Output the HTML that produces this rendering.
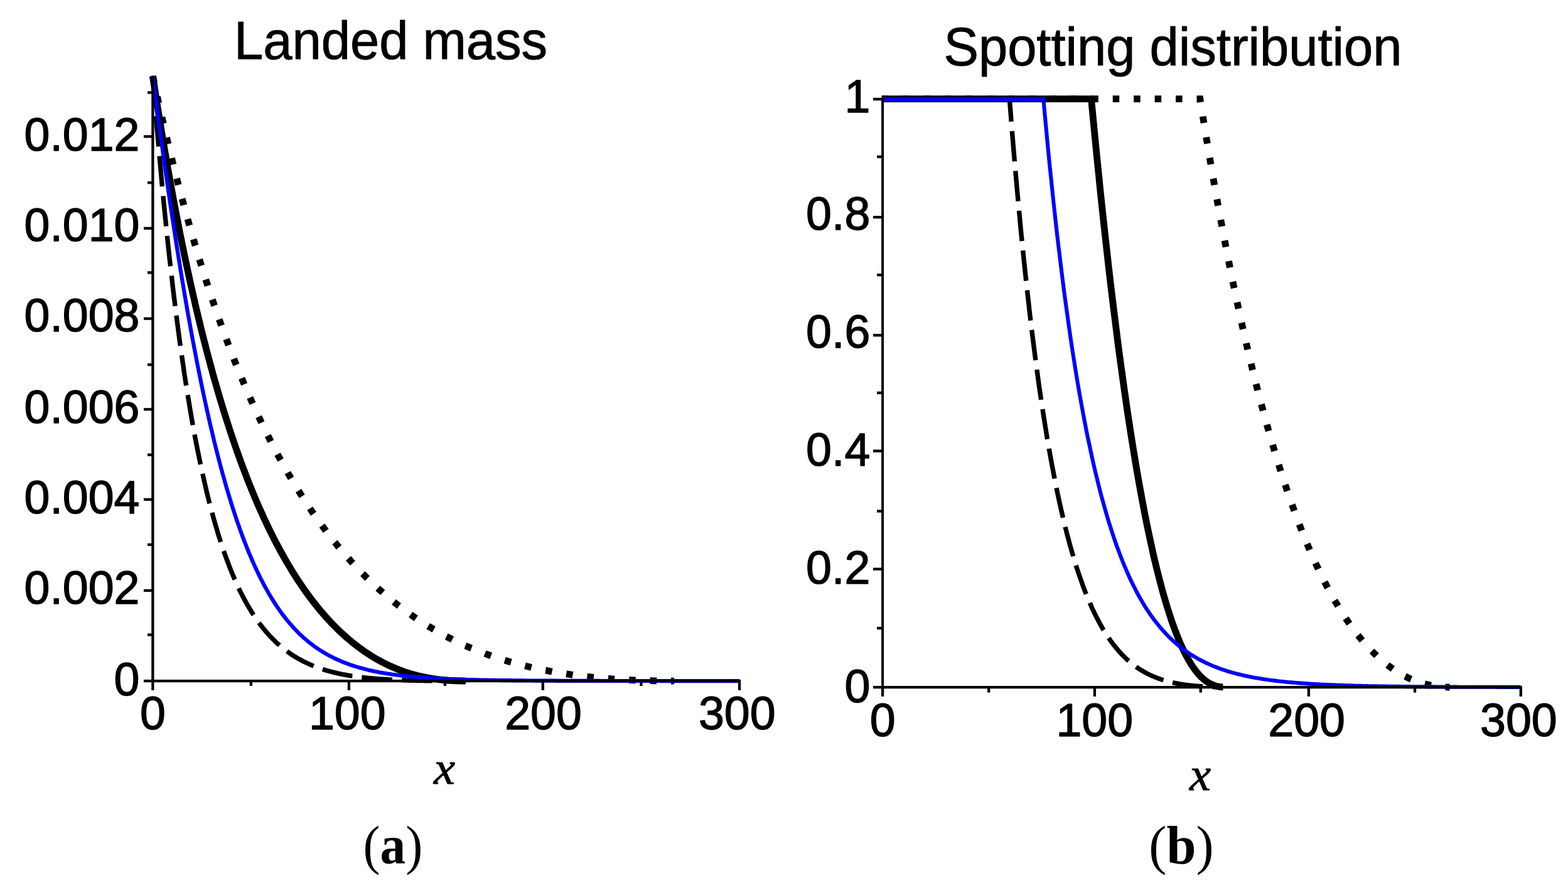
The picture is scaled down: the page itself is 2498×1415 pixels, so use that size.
<!DOCTYPE html>
<html lang="en">
<head>
<meta charset="utf-8">
<title>Landed mass and spotting distribution</title>
<style>
html,body{margin:0;padding:0;background:#fff;overflow:hidden}
svg{display:block}
text{font-kerning:normal}
</style>
</head>
<body>
<svg width="2498" height="1415" viewBox="0 0 2498 1415" role="img" aria-label="Landed mass and spotting distribution versus x">
<rect width="2498" height="1415" fill="#fff"/>
<g id="panel-a">
<g id="curves-a">
<path d="M243.4,121.3 L245.4,130.5 L247.4,139.6 L249.3,148.7 L251.3,157.6 L253.3,166.5 L255.3,175.2 L257.2,183.9 L259.2,192.5 L261.2,201 L263.2,209.5 L265.2,217.8 L267.1,226.1 L269.1,234.3 L271.1,242.4 L273.1,250.4 L275,258.4 L277,266.3 L279,274.1 L281,281.8 L282.9,289.5 L284.9,297.1 L286.9,304.6 L288.9,312.1 L290.9,319.5 L292.8,326.8 L294.8,334 L296.8,341.2 L298.8,348.3 L300.7,355.3 L302.7,362.3 L304.7,369.2 L306.7,376.1 L308.7,382.9 L310.6,389.6 L312.6,396.2 L314.6,402.8 L316.6,409.4 L318.5,415.8 L320.5,422.3 L322.5,428.6 L324.5,434.9 L326.5,441.2 L328.4,447.3 L330.4,453.5 L332.4,459.5 L334.4,465.6 L336.3,471.5 L338.3,477.4 L340.3,483.3 L342.3,489.1 L344.3,494.8 L346.2,500.5 L348.2,506.2 L350.2,511.8 L352.2,517.3 L354.1,522.8 L356.1,528.3 L358.1,533.7 L360.1,539 L362,544.3 L364,549.6 L366,554.8 L368,560 L370,565.1 L371.9,570.1 L373.9,575.2 L375.9,580.2 L377.9,585.1 L379.8,590 L381.8,594.8 L383.8,599.6 L385.8,604.4 L387.8,609.1 L389.7,613.8 L391.7,618.4 L393.7,623 L395.7,627.6 L397.6,632.1 L399.6,636.6 L401.6,641 L403.6,645.4 L405.6,649.8 L407.5,654.1 L409.5,658.4 L411.5,662.7 L413.5,666.9 L415.4,671 L417.4,675.2 L419.4,679.3 L421.4,683.3 L423.4,687.4 L425.3,691.4 L427.3,695.3 L429.3,699.2 L431.3,703.1 L433.2,707 L435.2,710.8 L437.2,714.6 L439.2,718.4 L441.1,722.1 L443.1,725.8 L445.1,729.4 L447.1,733.1 L449.1,736.7 L451,740.2 L453,743.8 L455,747.3 L457,750.7 L458.9,754.2 L460.9,757.6 L462.9,761 L464.9,764.3 L466.9,767.7 L468.8,770.9 L470.8,774.2 L472.8,777.5 L474.8,780.7 L476.7,783.8 L478.7,787 L480.7,790.1 L482.7,793.2 L484.7,796.3 L486.6,799.3 L488.6,802.4 L490.6,805.4 L492.6,808.3 L494.5,811.3 L496.5,814.2 L498.5,817.1 L500.5,819.9 L502.4,822.8 L504.4,825.6 L506.4,828.4 L508.4,831.1 L510.4,833.9 L512.3,836.6 L514.3,839.3 L516.3,842 L518.3,844.6 L520.2,847.2 L522.2,849.8 L524.2,852.4 L526.2,855 L528.2,857.5 L530.1,860 L532.1,862.5 L534.1,864.9 L536.1,867.4 L538,869.8 L540,872.2 L542,874.6 L544,876.9 L546,879.3 L547.9,881.6 L549.9,883.9 L551.9,886.2 L553.9,888.4 L555.8,890.6 L557.8,892.9 L559.8,895.1 L561.8,897.2 L563.8,899.4 L565.7,901.5 L567.7,903.6 L569.7,905.7 L571.7,907.8 L573.6,909.9 L575.6,911.9 L577.6,913.9 L579.6,915.9 L581.5,917.9 L583.5,919.9 L585.5,921.8 L587.5,923.8 L589.5,925.7 L591.4,927.6 L593.4,929.4 L595.4,931.3 L597.4,933.1 L599.3,935 L601.3,936.8 L603.3,938.6 L605.3,940.3 L607.3,942.1 L609.2,943.8 L611.2,945.6 L613.2,947.3 L615.2,949 L617.1,950.7 L619.1,952.3 L621.1,954 L623.1,955.6 L625.1,957.2 L627,958.8 L629,960.4 L631,962 L633,963.5 L634.9,965.1 L636.9,966.6 L638.9,968.1 L640.9,969.6 L642.8,971.1 L644.8,972.5 L646.8,974 L648.8,975.4 L650.8,976.9 L652.7,978.3 L654.7,979.7 L656.7,981.1 L658.7,982.4 L660.6,983.8 L662.6,985.1 L664.6,986.5 L666.6,987.8 L668.6,989.1 L670.5,990.4 L672.5,991.6 L674.5,992.9 L676.5,994.2 L678.4,995.4 L680.4,996.6 L682.4,997.8 L684.4,999 L686.4,1000.2 L688.3,1001.4 L690.3,1002.6 L692.3,1003.7 L694.3,1004.9 L696.2,1006 L698.2,1007.1 L700.2,1008.2 L702.2,1009.3 L704.2,1010.4 L706.1,1011.5 L708.1,1012.5 L710.1,1013.6 L712.1,1014.6 L714,1015.7 L716,1016.7 L718,1017.7 L720,1018.7 L721.9,1019.7 L723.9,1020.6 L725.9,1021.6 L727.9,1022.5 L729.9,1023.5 L731.8,1024.4 L733.8,1025.3 L735.8,1026.3 L737.8,1027.2 L739.7,1028.1 L741.7,1028.9 L743.7,1029.8 L745.7,1030.7 L747.7,1031.5 L749.6,1032.4 L751.6,1033.2 L753.6,1034 L755.6,1034.8 L757.5,1035.6 L759.5,1036.4 L761.5,1037.2 L763.5,1038 L765.5,1038.8 L767.4,1039.5 L769.4,1040.3 L771.4,1041 L773.4,1041.8 L775.3,1042.5 L777.3,1043.2 L779.3,1043.9 L781.3,1044.6 L783.3,1045.3 L785.2,1046 L787.2,1046.7 L789.2,1047.3 L791.2,1048 L793.1,1048.7 L795.1,1049.3 L797.1,1049.9 L799.1,1050.6 L801,1051.2 L803,1051.8 L805,1052.4 L807,1053 L809,1053.6 L810.9,1054.2 L812.9,1054.7 L814.9,1055.3 L816.9,1055.9 L818.8,1056.4 L820.8,1057 L822.8,1057.5 L824.8,1058 L826.8,1058.6 L828.7,1059.1 L830.7,1059.6 L832.7,1060.1 L834.7,1060.6 L836.6,1061.1 L838.6,1061.6 L840.6,1062 L842.6,1062.5 L844.6,1063 L846.5,1063.4 L848.5,1063.9 L850.5,1064.3 L852.5,1064.8 L854.4,1065.2 L856.4,1065.6 L858.4,1066 L860.4,1066.5 L862.3,1066.9 L864.3,1067.3 L866.3,1067.7 L868.3,1068.1 L870.3,1068.4 L872.2,1068.8 L874.2,1069.2 L876.2,1069.6 L878.2,1069.9 L880.1,1070.3 L882.1,1070.6 L884.1,1071 L886.1,1071.3 L888.1,1071.7 L890,1072 L892,1072.3 L894,1072.6 L896,1073 L897.9,1073.3 L899.9,1073.6 L901.9,1073.9 L903.9,1074.2 L905.9,1074.5 L907.8,1074.7 L909.8,1075 L911.8,1075.3 L913.8,1075.6 L915.7,1075.8 L917.7,1076.1 L919.7,1076.4 L921.7,1076.6 L923.7,1076.9 L925.6,1077.1 L927.6,1077.3 L929.6,1077.6 L931.6,1077.8 L933.5,1078 L935.5,1078.2 L937.5,1078.5 L939.5,1078.7 L941.4,1078.9 L943.4,1079.1 L945.4,1079.3 L947.4,1079.5 L949.4,1079.7 L951.3,1079.9 L953.3,1080.1 L955.3,1080.2 L957.3,1080.4 L959.2,1080.6 L961.2,1080.8 L963.2,1080.9 L965.2,1081.1 L967.2,1081.2 L969.1,1081.4 L971.1,1081.5 L973.1,1081.7 L975.1,1081.8 L977,1082 L979,1082.1 L981,1082.2 L983,1082.4 L985,1082.5 L986.9,1082.6 L988.9,1082.7 L990.9,1082.9 L992.9,1083 L994.8,1083.1 L996.8,1083.2 L998.8,1083.3 L1000.8,1083.4 L1002.7,1083.5 L1004.7,1083.6 L1006.7,1083.7 L1008.7,1083.8 L1010.7,1083.8 L1012.6,1083.9 L1014.6,1084 L1016.6,1084.1 L1018.6,1084.1 L1020.5,1084.2 L1022.5,1084.3 L1024.5,1084.3 L1026.5,1084.4 L1028.5,1084.5 L1030.4,1084.5 L1032.4,1084.6 L1034.4,1084.6 L1036.4,1084.7 L1038.3,1084.7 L1040.3,1084.8 L1042.3,1084.8 L1044.3,1084.8 L1046.3,1084.9 L1048.2,1084.9 L1050.2,1084.9 L1052.2,1084.9 L1054.2,1085 L1056.1,1085 L1058.1,1085 L1060.1,1085 L1062.1,1085 L1064.1,1085.1 L1066,1085.1 L1068,1085.1 L1070,1085.1 L1072,1085.1 L1073.9,1085.1" fill="none" stroke="#000" stroke-width="10.8" stroke-linejoin="miter" stroke-miterlimit="10" stroke-dasharray="10.5 23"/>
<path d="M243.4,121.3 L244.6,136.5 L245.8,151.4 L247,166.1 L248.1,180.6 L249.3,194.9 L250.5,208.9 L251.7,222.7 L252.9,236.3 L254.1,249.7 L255.3,262.9 L256.5,275.9 L257.6,288.6 L258.8,301.2 L260,313.6 L261.2,325.8 L262.4,337.8 L263.6,349.6 L264.8,361.2 L265.9,372.7 L267.1,383.9 L268.3,395 L269.5,405.9 L270.7,416.7 L271.9,427.3 L273.1,437.7 L274.3,447.9 L275.4,458 L276.6,468 L277.8,477.7 L279,487.4 L280.2,496.9 L281.4,506.2 L282.6,515.4 L283.8,524.4 L284.9,533.3 L286.1,542.1 L287.3,550.7 L288.5,559.2 L289.7,567.6 L290.9,575.8 L292.1,584 L293.2,591.9 L294.4,599.8 L295.6,607.5 L296.8,615.1 L298,622.6 L299.2,630 L300.4,637.3 L301.6,644.4 L302.7,651.5 L303.9,658.4 L305.1,665.3 L306.3,672 L307.5,678.6 L308.7,685.1 L309.9,691.5 L311,697.8 L312.2,704 L313.4,710.2 L314.6,716.2 L315.8,722.1 L317,728 L318.2,733.7 L319.4,739.4 L320.5,744.9 L321.7,750.4 L322.9,755.8 L324.1,761.1 L325.3,766.4 L326.5,771.5 L327.7,776.6 L328.8,781.6 L330,786.5 L331.2,791.3 L332.4,796.1 L333.6,800.8 L334.8,805.4 L336,809.9 L337.2,814.4 L338.3,818.8 L339.5,823.1 L340.7,827.4 L341.9,831.6 L343.1,835.7 L344.3,839.8 L345.5,843.8 L346.6,847.8 L347.8,851.6 L349,855.5 L350.2,859.2 L351.4,862.9 L352.6,866.6 L353.8,870.2 L355,873.7 L356.1,877.2 L357.3,880.6 L358.5,884 L359.7,887.3 L360.9,890.5 L362.1,893.8 L363.3,896.9 L364.5,900 L365.6,903.1 L366.8,906.1 L368,909.1 L369.2,912 L370.4,914.9 L371.6,917.7 L372.8,920.5 L373.9,923.2 L375.1,925.9 L376.3,928.6 L377.5,931.2 L378.7,933.8 L379.9,936.3 L381.1,938.8 L382.3,941.3 L383.4,943.7 L384.6,946.1 L385.8,948.4 L387,950.7 L388.2,953 L389.4,955.2 L390.6,957.4 L391.7,959.6 L392.9,961.7 L394.1,963.8 L395.3,965.8 L396.5,967.9 L397.7,969.9 L398.9,971.8 L400.1,973.8 L401.2,975.7 L402.4,977.5 L403.6,979.4 L404.8,981.2 L406,983 L407.2,984.7 L408.4,986.4 L409.5,988.1 L410.7,989.8 L411.9,991.5 L413.1,993.1 L414.3,994.7 L415.5,996.2 L416.7,997.8 L417.9,999.3 L419,1000.8 L420.2,1002.3 L421.4,1003.7 L422.6,1005.1 L423.8,1006.5 L425,1007.9 L426.2,1009.3 L427.4,1010.6 L428.5,1011.9 L429.7,1013.2 L430.9,1014.5 L432.1,1015.7 L433.3,1016.9 L434.5,1018.1 L435.7,1019.3 L436.8,1020.5 L438,1021.6 L439.2,1022.8 L440.4,1023.9 L441.6,1025 L442.8,1026.1 L444,1027.1 L445.2,1028.2 L446.3,1029.2 L447.5,1030.2 L448.7,1031.2 L449.9,1032.2 L451.1,1033.1 L452.3,1034.1 L453.5,1035 L454.6,1035.9 L455.8,1036.8 L457,1037.7 L458.2,1038.6 L459.4,1039.4 L460.6,1040.2 L461.8,1041.1 L463,1041.9 L464.1,1042.7 L465.3,1043.5 L466.5,1044.2 L467.7,1045 L468.9,1045.7 L470.1,1046.5 L471.3,1047.2 L472.4,1047.9 L473.6,1048.6 L474.8,1049.3 L476,1050 L477.2,1050.6 L478.4,1051.3 L479.6,1051.9 L480.8,1052.5 L481.9,1053.2 L483.1,1053.8 L484.3,1054.4 L485.5,1055 L486.7,1055.5 L487.9,1056.1 L489.1,1056.7 L490.3,1057.2 L491.4,1057.7 L492.6,1058.3 L493.8,1058.8 L495,1059.3 L496.2,1059.8 L497.4,1060.3 L498.6,1060.8 L499.7,1061.3 L500.9,1061.7 L502.1,1062.2 L503.3,1062.7 L504.5,1063.1 L505.7,1063.5 L506.9,1064 L508.1,1064.4 L509.2,1064.8 L510.4,1065.2 L511.6,1065.6 L512.8,1066 L514,1066.4 L515.2,1066.8 L516.4,1067.1 L517.5,1067.5 L518.7,1067.9 L519.9,1068.2 L521.1,1068.6 L522.3,1068.9 L523.5,1069.2 L524.7,1069.6 L525.9,1069.9 L527,1070.2 L528.2,1070.5 L529.4,1070.8 L530.6,1071.1 L531.8,1071.4 L533,1071.7 L534.2,1072 L535.3,1072.3 L536.5,1072.5 L537.7,1072.8 L538.9,1073.1 L540.1,1073.3 L541.3,1073.6 L542.5,1073.8 L543.7,1074.1 L544.8,1074.3 L546,1074.6 L547.2,1074.8 L548.4,1075 L549.6,1075.2 L550.8,1075.5 L552,1075.7 L553.1,1075.9 L554.3,1076.1 L555.5,1076.3 L556.7,1076.5 L557.9,1076.7 L559.1,1076.9 L560.3,1077.1 L561.5,1077.2 L562.6,1077.4 L563.8,1077.6 L565,1077.8 L566.2,1077.9 L567.4,1078.1 L568.6,1078.3 L569.8,1078.4 L571,1078.6 L572.1,1078.7 L573.3,1078.9 L574.5,1079 L575.7,1079.2 L576.9,1079.3 L578.1,1079.5 L579.3,1079.6 L580.4,1079.7 L581.6,1079.9 L582.8,1080 L584,1080.1 L585.2,1080.2 L586.4,1080.4 L587.6,1080.5 L588.8,1080.6 L589.9,1080.7 L591.1,1080.8 L592.3,1080.9 L593.5,1081 L594.7,1081.1 L595.9,1081.2 L597.1,1081.3 L598.2,1081.4 L599.4,1081.5 L600.6,1081.6 L601.8,1081.7 L603,1081.8 L604.2,1081.9 L605.4,1082 L606.6,1082.1 L607.7,1082.1 L608.9,1082.2 L610.1,1082.3 L611.3,1082.4 L612.5,1082.4 L613.7,1082.5 L614.9,1082.6 L616,1082.7 L617.2,1082.7 L618.4,1082.8 L619.6,1082.9 L620.8,1082.9 L622,1083 L623.2,1083.1 L624.4,1083.1 L625.5,1083.2 L626.7,1083.2 L627.9,1083.3 L629.1,1083.3 L630.3,1083.4 L631.5,1083.4 L632.7,1083.5 L633.9,1083.5 L635,1083.6 L636.2,1083.6 L637.4,1083.7 L638.6,1083.7 L639.8,1083.8 L641,1083.8 L642.2,1083.8 L643.3,1083.9 L644.5,1083.9 L645.7,1084 L646.9,1084 L648.1,1084 L649.3,1084.1 L650.5,1084.1 L651.7,1084.1 L652.8,1084.2 L654,1084.2 L655.2,1084.2 L656.4,1084.3 L657.6,1084.3 L658.8,1084.3 L660,1084.4 L661.1,1084.4 L662.3,1084.4 L663.5,1084.4 L664.7,1084.5 L665.9,1084.5 L667.1,1084.5 L668.3,1084.5 L669.5,1084.5 L670.6,1084.6 L671.8,1084.6 L673,1084.6 L674.2,1084.6 L675.4,1084.6 L676.6,1084.7 L677.8,1084.7 L678.9,1084.7 L680.1,1084.7 L681.3,1084.7 L682.5,1084.7 L683.7,1084.8 L684.9,1084.8 L686.1,1084.8 L687.3,1084.8 L688.4,1084.8 L689.6,1084.8 L690.8,1084.8 L692,1084.9 L693.2,1084.9 L694.4,1084.9 L695.6,1084.9 L696.8,1084.9 L697.9,1084.9 L699.1,1084.9 L700.3,1084.9 L701.5,1084.9 L702.7,1084.9 L703.9,1085 L705.1,1085 L706.2,1085 L707.4,1085 L708.6,1085 L709.8,1085 L711,1085 L712.2,1085 L713.4,1085 L714.6,1085 L715.7,1085 L716.9,1085 L718.1,1085 L719.3,1085 L720.5,1085 L721.7,1085 L722.9,1085 L724,1085 L725.2,1085.1 L726.4,1085.1 L727.6,1085.1 L728.8,1085.1 L730,1085.1 L731.2,1085.1 L732.4,1085.1 L733.5,1085.1 L734.7,1085.1 L735.9,1085.1 L737.1,1085.1 L738.3,1085.1 L739.5,1085.1 L740.7,1085.1 L741.8,1085.1" fill="none" stroke="#000" stroke-width="7.4" stroke-linejoin="miter" stroke-miterlimit="10" stroke-dasharray="48.7 15.2"/>
<path d="M243.4,121.3 L244.6,129.1 L245.8,136.9 L247,144.6 L248.1,152.2 L249.3,159.8 L250.5,167.3 L251.7,174.8 L252.9,182.2 L254.1,189.6 L255.3,196.9 L256.5,204.1 L257.6,211.3 L258.8,218.4 L260,225.5 L261.2,232.5 L262.4,239.5 L263.6,246.4 L264.8,253.3 L265.9,260.1 L267.1,266.9 L268.3,273.6 L269.5,280.3 L270.7,286.9 L271.9,293.5 L273.1,300 L274.3,306.4 L275.4,312.9 L276.6,319.2 L277.8,325.6 L279,331.8 L280.2,338.1 L281.4,344.3 L282.6,350.4 L283.8,356.5 L284.9,362.5 L286.1,368.5 L287.3,374.5 L288.5,380.4 L289.7,386.3 L290.9,392.1 L292.1,397.9 L293.2,403.6 L294.4,409.3 L295.6,414.9 L296.8,420.5 L298,426.1 L299.2,431.6 L300.4,437.1 L301.6,442.6 L302.7,448 L303.9,453.3 L305.1,458.6 L306.3,463.9 L307.5,469.2 L308.7,474.4 L309.9,479.5 L311,484.7 L312.2,489.8 L313.4,494.8 L314.6,499.8 L315.8,504.8 L317,509.7 L318.2,514.6 L319.4,519.5 L320.5,524.3 L321.7,529.1 L322.9,533.9 L324.1,538.6 L325.3,543.3 L326.5,547.9 L327.7,552.6 L328.8,557.2 L330,561.7 L331.2,566.2 L332.4,570.7 L333.6,575.2 L334.8,579.6 L336,584 L337.2,588.3 L338.3,592.6 L339.5,596.9 L340.7,601.2 L341.9,605.4 L343.1,609.6 L344.3,613.7 L345.5,617.9 L346.6,622 L347.8,626.1 L349,630.1 L350.2,634.1 L351.4,638.1 L352.6,642 L353.8,646 L355,649.9 L356.1,653.7 L357.3,657.6 L358.5,661.4 L359.7,665.1 L360.9,668.9 L362.1,672.6 L363.3,676.3 L364.5,680 L365.6,683.6 L366.8,687.2 L368,690.8 L369.2,694.4 L370.4,697.9 L371.6,701.4 L372.8,704.9 L373.9,708.4 L375.1,711.8 L376.3,715.2 L377.5,718.6 L378.7,721.9 L379.9,725.3 L381.1,728.6 L382.3,731.9 L383.4,735.1 L384.6,738.3 L385.8,741.6 L387,744.7 L388.2,747.9 L389.4,751 L390.6,754.2 L391.7,757.2 L392.9,760.3 L394.1,763.4 L395.3,766.4 L396.5,769.4 L397.7,772.4 L398.9,775.3 L400.1,778.3 L401.2,781.2 L402.4,784.1 L403.6,786.9 L404.8,789.8 L406,792.6 L407.2,795.4 L408.4,798.2 L409.5,801 L410.7,803.7 L411.9,806.4 L413.1,809.1 L414.3,811.8 L415.5,814.5 L416.7,817.1 L417.9,819.7 L419,822.3 L420.2,824.9 L421.4,827.5 L422.6,830 L423.8,832.6 L425,835.1 L426.2,837.6 L427.4,840 L428.5,842.5 L429.7,844.9 L430.9,847.3 L432.1,849.7 L433.3,852.1 L434.5,854.4 L435.7,856.8 L436.8,859.1 L438,861.4 L439.2,863.7 L440.4,866 L441.6,868.2 L442.8,870.5 L444,872.7 L445.2,874.9 L446.3,877.1 L447.5,879.2 L448.7,881.4 L449.9,883.5 L451.1,885.7 L452.3,887.8 L453.5,889.8 L454.6,891.9 L455.8,894 L457,896 L458.2,898 L459.4,900 L460.6,902 L461.8,904 L463,906 L464.1,907.9 L465.3,909.9 L466.5,911.8 L467.7,913.7 L468.9,915.6 L470.1,917.4 L471.3,919.3 L472.4,921.1 L473.6,923 L474.8,924.8 L476,926.6 L477.2,928.4 L478.4,930.1 L479.6,931.9 L480.8,933.6 L481.9,935.4 L483.1,937.1 L484.3,938.8 L485.5,940.5 L486.7,942.1 L487.9,943.8 L489.1,945.4 L490.3,947.1 L491.4,948.7 L492.6,950.3 L493.8,951.9 L495,953.5 L496.2,955.1 L497.4,956.6 L498.6,958.2 L499.7,959.7 L500.9,961.2 L502.1,962.7 L503.3,964.2 L504.5,965.7 L505.7,967.2 L506.9,968.6 L508.1,970.1 L509.2,971.5 L510.4,972.9 L511.6,974.3 L512.8,975.7 L514,977.1 L515.2,978.5 L516.4,979.9 L517.5,981.2 L518.7,982.5 L519.9,983.9 L521.1,985.2 L522.3,986.5 L523.5,987.8 L524.7,989.1 L525.9,990.3 L527,991.6 L528.2,992.9 L529.4,994.1 L530.6,995.3 L531.8,996.5 L533,997.7 L534.2,998.9 L535.3,1000.1 L536.5,1001.3 L537.7,1002.5 L538.9,1003.6 L540.1,1004.8 L541.3,1005.9 L542.5,1007 L543.7,1008.1 L544.8,1009.2 L546,1010.3 L547.2,1011.4 L548.4,1012.5 L549.6,1013.6 L550.8,1014.6 L552,1015.6 L553.1,1016.7 L554.3,1017.7 L555.5,1018.7 L556.7,1019.7 L557.9,1020.7 L559.1,1021.7 L560.3,1022.7 L561.5,1023.6 L562.6,1024.6 L563.8,1025.5 L565,1026.5 L566.2,1027.4 L567.4,1028.3 L568.6,1029.2 L569.8,1030.1 L571,1031 L572.1,1031.9 L573.3,1032.8 L574.5,1033.7 L575.7,1034.5 L576.9,1035.4 L578.1,1036.2 L579.3,1037 L580.4,1037.9 L581.6,1038.7 L582.8,1039.5 L584,1040.3 L585.2,1041.1 L586.4,1041.8 L587.6,1042.6 L588.8,1043.4 L589.9,1044.1 L591.1,1044.9 L592.3,1045.6 L593.5,1046.3 L594.7,1047.1 L595.9,1047.8 L597.1,1048.5 L598.2,1049.2 L599.4,1049.9 L600.6,1050.5 L601.8,1051.2 L603,1051.9 L604.2,1052.5 L605.4,1053.2 L606.6,1053.8 L607.7,1054.5 L608.9,1055.1 L610.1,1055.7 L611.3,1056.3 L612.5,1056.9 L613.7,1057.5 L614.9,1058.1 L616,1058.7 L617.2,1059.3 L618.4,1059.8 L619.6,1060.4 L620.8,1060.9 L622,1061.5 L623.2,1062 L624.4,1062.5 L625.5,1063.1 L626.7,1063.6 L627.9,1064.1 L629.1,1064.6 L630.3,1065.1 L631.5,1065.6 L632.7,1066 L633.9,1066.5 L635,1067 L636.2,1067.4 L637.4,1067.9 L638.6,1068.3 L639.8,1068.8 L641,1069.2 L642.2,1069.6 L643.3,1070 L644.5,1070.5 L645.7,1070.9 L646.9,1071.3 L648.1,1071.6 L649.3,1072 L650.5,1072.4 L651.7,1072.8 L652.8,1073.1 L654,1073.5 L655.2,1073.9 L656.4,1074.2 L657.6,1074.5 L658.8,1074.9 L660,1075.2 L661.1,1075.5 L662.3,1075.8 L663.5,1076.2 L664.7,1076.5 L665.9,1076.8 L667.1,1077 L668.3,1077.3 L669.5,1077.6 L670.6,1077.9 L671.8,1078.1 L673,1078.4 L674.2,1078.7 L675.4,1078.9 L676.6,1079.2 L677.8,1079.4 L678.9,1079.6 L680.1,1079.9 L681.3,1080.1 L682.5,1080.3 L683.7,1080.5 L684.9,1080.7 L686.1,1080.9 L687.3,1081.1 L688.4,1081.3 L689.6,1081.5 L690.8,1081.6 L692,1081.8 L693.2,1082 L694.4,1082.2 L695.6,1082.3 L696.8,1082.5 L697.9,1082.6 L699.1,1082.8 L700.3,1082.9 L701.5,1083 L702.7,1083.2 L703.9,1083.3 L705.1,1083.4 L706.2,1083.5 L707.4,1083.6 L708.6,1083.7 L709.8,1083.8 L711,1083.9 L712.2,1084 L713.4,1084.1 L714.6,1084.2 L715.7,1084.3 L716.9,1084.3 L718.1,1084.4 L719.3,1084.5 L720.5,1084.5 L721.7,1084.6 L722.9,1084.7 L724,1084.7 L725.2,1084.7 L726.4,1084.8 L727.6,1084.8 L728.8,1084.9 L730,1084.9 L731.2,1084.9 L732.4,1085 L733.5,1085 L734.7,1085 L735.9,1085 L737.1,1085 L738.3,1085.1 L739.5,1085.1 L740.7,1085.1 L741.8,1085.1" fill="none" stroke="#000" stroke-width="10.8" stroke-linejoin="miter" stroke-miterlimit="10"/>
<path d="M243.4,121.3 L245.6,138.6 L247.9,155.8 L250.1,172.7 L252.3,189.5 L254.5,206.1 L256.8,222.4 L259,238.6 L261.2,254.7 L263.4,270.5 L265.7,286.1 L267.9,301.5 L270.1,316.8 L272.3,331.8 L274.6,346.7 L276.8,361.4 L279,375.9 L281.2,390.1 L283.5,404.2 L285.7,418.1 L287.9,431.8 L290.1,445.3 L292.4,458.6 L294.6,471.7 L296.8,484.6 L299,497.4 L301.3,509.9 L303.5,522.2 L305.7,534.4 L307.9,546.3 L310.2,558.1 L312.4,569.7 L314.6,581 L316.8,592.2 L319.1,603.2 L321.3,614.1 L323.5,624.7 L325.7,635.1 L328,645.4 L330.2,655.5 L332.4,665.4 L334.6,675.1 L336.9,684.6 L339.1,694 L341.3,703.2 L343.5,712.2 L345.8,721.1 L348,729.7 L350.2,738.3 L352.4,746.6 L354.7,754.8 L356.9,762.8 L359.1,770.6 L361.3,778.3 L363.6,785.9 L365.8,793.3 L368,800.5 L370.2,807.6 L372.5,814.5 L374.7,821.3 L376.9,827.9 L379.1,834.4 L381.4,840.8 L383.6,847 L385.8,853.1 L388,859 L390.3,864.8 L392.5,870.5 L394.7,876 L396.9,881.5 L399.2,886.8 L401.4,892 L403.6,897 L405.8,902 L408.1,906.8 L410.3,911.5 L412.5,916.1 L414.7,920.6 L417,925 L419.2,929.3 L421.4,933.5 L423.6,937.5 L425.9,941.5 L428.1,945.4 L430.3,949.2 L432.5,952.9 L434.8,956.5 L437,960 L439.2,963.4 L441.4,966.7 L443.7,970 L445.9,973.2 L448.1,976.3 L450.3,979.3 L452.6,982.2 L454.8,985.1 L457,987.9 L459.2,990.6 L461.5,993.2 L463.7,995.8 L465.9,998.3 L468.1,1000.7 L470.4,1003.1 L472.6,1005.4 L474.8,1007.7 L477,1009.9 L479.3,1012 L481.5,1014.1 L483.7,1016.1 L485.9,1018 L488.2,1020 L490.4,1021.8 L492.6,1023.6 L494.8,1025.4 L497.1,1027.1 L499.3,1028.8 L501.5,1030.4 L503.8,1032 L506,1033.5 L508.2,1035 L510.4,1036.4 L512.7,1037.8 L514.9,1039.2 L517.1,1040.5 L519.3,1041.8 L521.6,1043.1 L523.8,1044.3 L526,1045.5 L528.2,1046.6 L530.5,1047.8 L532.7,1048.9 L534.9,1049.9 L537.1,1050.9 L539.4,1051.9 L541.6,1052.9 L543.8,1053.8 L546,1054.8 L548.3,1055.7 L550.5,1056.5 L552.7,1057.4 L554.9,1058.2 L557.2,1059 L559.4,1059.7 L561.6,1060.5 L563.8,1061.2 L566.1,1061.9 L568.3,1062.6 L570.5,1063.3 L572.7,1063.9 L575,1064.5 L577.2,1065.1 L579.4,1065.7 L581.6,1066.3 L583.9,1066.8 L586.1,1067.4 L588.3,1067.9 L590.5,1068.4 L592.8,1068.9 L595,1069.4 L597.2,1069.9 L599.4,1070.3 L601.7,1070.7 L603.9,1071.2 L606.1,1071.6 L608.3,1072 L610.6,1072.4 L612.8,1072.7 L615,1073.1 L617.2,1073.5 L619.5,1073.8 L621.7,1074.1 L623.9,1074.5 L626.1,1074.8 L628.4,1075.1 L630.6,1075.4 L632.8,1075.7 L635,1076 L637.3,1076.2 L639.5,1076.5 L641.7,1076.7 L643.9,1077 L646.2,1077.2 L648.4,1077.5 L650.6,1077.7 L652.8,1077.9 L655.1,1078.1 L657.3,1078.3 L659.5,1078.5 L661.7,1078.7 L664,1078.9 L666.2,1079.1 L668.4,1079.3 L670.6,1079.4 L672.9,1079.6 L675.1,1079.8 L677.3,1079.9 L679.5,1080.1 L681.8,1080.2 L684,1080.4 L686.2,1080.5 L688.4,1080.6 L690.7,1080.8 L692.9,1080.9 L695.1,1081 L697.3,1081.1 L699.6,1081.3 L701.8,1081.4 L704,1081.5 L706.2,1081.6 L708.5,1081.7 L710.7,1081.8 L712.9,1081.9 L715.1,1082 L717.4,1082.1 L719.6,1082.2 L721.8,1082.2 L724,1082.3 L726.3,1082.4 L728.5,1082.5 L730.7,1082.6 L732.9,1082.6 L735.2,1082.7 L737.4,1082.8 L739.6,1082.8 L741.8,1082.9 L744.1,1083 L746.3,1083 L748.5,1083.1 L750.7,1083.1 L753,1083.2 L755.2,1083.3 L757.4,1083.3 L759.6,1083.4 L761.9,1083.4 L764.1,1083.5 L766.3,1083.5 L768.6,1083.6 L770.8,1083.6 L773,1083.6 L775.2,1083.7 L777.5,1083.7 L779.7,1083.8 L781.9,1083.8 L784.1,1083.8 L786.4,1083.9 L788.6,1083.9 L790.8,1083.9 L793,1084 L795.3,1084 L797.5,1084 L799.7,1084.1 L801.9,1084.1 L804.2,1084.1 L806.4,1084.2 L808.6,1084.2 L810.8,1084.2 L813.1,1084.2 L815.3,1084.3 L817.5,1084.3 L819.7,1084.3 L822,1084.3 L824.2,1084.3 L826.4,1084.4 L828.6,1084.4 L830.9,1084.4 L833.1,1084.4 L835.3,1084.4 L837.5,1084.5 L839.8,1084.5 L842,1084.5 L844.2,1084.5 L846.4,1084.5 L848.7,1084.5 L850.9,1084.6 L853.1,1084.6 L855.3,1084.6 L857.6,1084.6 L859.8,1084.6 L862,1084.6 L864.2,1084.6 L866.5,1084.7 L868.7,1084.7 L870.9,1084.7 L873.1,1084.7 L875.4,1084.7 L877.6,1084.7 L879.8,1084.7 L882,1084.7 L884.3,1084.7 L886.5,1084.8 L888.7,1084.8 L890.9,1084.8 L893.2,1084.8 L895.4,1084.8 L897.6,1084.8 L899.8,1084.8 L902.1,1084.8 L904.3,1084.8 L906.5,1084.8 L908.7,1084.8 L911,1084.8 L913.2,1084.8 L915.4,1084.9 L917.6,1084.9 L919.9,1084.9 L922.1,1084.9 L924.3,1084.9 L926.5,1084.9 L928.8,1084.9 L931,1084.9 L933.2,1084.9 L935.4,1084.9 L937.7,1084.9 L939.9,1084.9 L942.1,1084.9 L944.3,1084.9 L946.6,1084.9 L948.8,1084.9 L951,1084.9 L953.2,1084.9 L955.5,1084.9 L957.7,1085 L959.9,1085 L962.1,1085 L964.4,1085 L966.6,1085 L968.8,1085 L971,1085 L973.3,1085 L975.5,1085 L977.7,1085 L979.9,1085 L982.2,1085 L984.4,1085 L986.6,1085 L988.8,1085 L991.1,1085 L993.3,1085 L995.5,1085 L997.7,1085 L1000,1085 L1002.2,1085 L1004.4,1085 L1006.6,1085 L1008.9,1085 L1011.1,1085 L1013.3,1085 L1015.5,1085 L1017.8,1085 L1020,1085 L1022.2,1085 L1024.5,1085 L1026.7,1085 L1028.9,1085 L1031.1,1085 L1033.4,1085 L1035.6,1085 L1037.8,1085 L1040,1085 L1042.3,1085 L1044.5,1085 L1046.7,1085 L1048.9,1085 L1051.2,1085 L1053.4,1085.1 L1055.6,1085.1 L1057.8,1085.1 L1060.1,1085.1 L1062.3,1085.1 L1064.5,1085.1 L1066.7,1085.1 L1069,1085.1 L1071.2,1085.1 L1073.4,1085.1 L1075.6,1085.1 L1077.9,1085.1 L1080.1,1085.1 L1082.3,1085.1 L1084.5,1085.1 L1086.8,1085.1 L1089,1085.1 L1091.2,1085.1 L1093.4,1085.1 L1095.7,1085.1 L1097.9,1085.1 L1100.1,1085.1 L1102.3,1085.1 L1104.6,1085.1 L1106.8,1085.1 L1109,1085.1 L1111.2,1085.1 L1113.5,1085.1 L1115.7,1085.1 L1117.9,1085.1 L1120.1,1085.1 L1122.4,1085.1 L1124.6,1085.1 L1126.8,1085.1 L1129,1085.1 L1131.3,1085.1 L1133.5,1085.1 L1135.7,1085.1 L1137.9,1085.1 L1140.2,1085.1 L1142.4,1085.1 L1144.6,1085.1 L1146.8,1085.1 L1149.1,1085.1 L1151.3,1085.1 L1153.5,1085.1 L1155.7,1085.1 L1158,1085.1 L1160.2,1085.1 L1162.4,1085.1 L1164.6,1085.1 L1166.9,1085.1 L1169.1,1085.1 L1171.3,1085.1 L1173.5,1085.1 L1175.8,1085.1 L1178,1085.1" fill="none" stroke="#0000ff" stroke-width="6.2" stroke-linejoin="miter" stroke-miterlimit="10"/>
</g>
<g id="axes-a">
<line x1="243.4" y1="120.4" x2="243.4" y2="1087.2" stroke="#000" stroke-width="4.3"/>
<line x1="241.2" y1="1085.1" x2="1180.0" y2="1085.1" stroke="#000" stroke-width="4.3"/>
<line x1="243.4" y1="1085.1" x2="243.4" y2="1099.8" stroke="#000" stroke-width="4.3"/>
<line x1="399.9" y1="1085.1" x2="399.9" y2="1093.0" stroke="#000" stroke-width="4.3"/>
<line x1="555.9" y1="1085.1" x2="555.9" y2="1099.8" stroke="#000" stroke-width="4.3"/>
<line x1="708.9" y1="1085.1" x2="708.9" y2="1093.0" stroke="#000" stroke-width="4.3"/>
<line x1="864.8" y1="1085.1" x2="864.8" y2="1099.8" stroke="#000" stroke-width="4.3"/>
<line x1="1021.4" y1="1085.1" x2="1021.4" y2="1093.0" stroke="#000" stroke-width="4.3"/>
<line x1="1178.0" y1="1085.1" x2="1178.0" y2="1099.8" stroke="#000" stroke-width="4.3"/>
<line x1="229.0" y1="1085.1" x2="243.4" y2="1085.1" stroke="#000" stroke-width="4.3"/>
<line x1="235.0" y1="1011.5" x2="243.4" y2="1011.5" stroke="#000" stroke-width="4.3"/>
<line x1="229.0" y1="941.0" x2="243.4" y2="941.0" stroke="#000" stroke-width="4.3"/>
<line x1="235.0" y1="867.9" x2="243.4" y2="867.9" stroke="#000" stroke-width="4.3"/>
<line x1="229.0" y1="795.9" x2="243.4" y2="795.9" stroke="#000" stroke-width="4.3"/>
<line x1="235.0" y1="724.7" x2="243.4" y2="724.7" stroke="#000" stroke-width="4.3"/>
<line x1="229.0" y1="652.3" x2="243.4" y2="652.3" stroke="#000" stroke-width="4.3"/>
<line x1="235.0" y1="581.1" x2="243.4" y2="581.1" stroke="#000" stroke-width="4.3"/>
<line x1="229.0" y1="507.7" x2="243.4" y2="507.7" stroke="#000" stroke-width="4.3"/>
<line x1="235.0" y1="434.4" x2="243.4" y2="434.4" stroke="#000" stroke-width="4.3"/>
<line x1="229.0" y1="363.8" x2="243.4" y2="363.8" stroke="#000" stroke-width="4.3"/>
<line x1="235.0" y1="291.1" x2="243.4" y2="291.1" stroke="#000" stroke-width="4.3"/>
<line x1="229.0" y1="217.5" x2="243.4" y2="217.5" stroke="#000" stroke-width="4.3"/>
<line x1="235.0" y1="147.5" x2="243.4" y2="147.5" stroke="#000" stroke-width="4.3"/>
</g>
<g id="labels-a">
<text transform="translate(622.6,93.9) scale(0.978,1.0)" font-size="85" text-anchor="middle" font-family="'Liberation Sans', sans-serif" fill="#000" stroke="#000" stroke-width="1.0" stroke-linejoin="round">Landed mass</text>
<text transform="translate(222.5,240.2) scale(1.0,1.0)" font-size="73.5" text-anchor="end" font-family="'Liberation Sans', sans-serif" fill="#000" stroke="#000" stroke-width="1.4" stroke-linejoin="round">0.012</text>
<text transform="translate(222.5,384.3) scale(1.0,1.0)" font-size="73.5" text-anchor="end" font-family="'Liberation Sans', sans-serif" fill="#000" stroke="#000" stroke-width="1.4" stroke-linejoin="round">0.010</text>
<text transform="translate(222.5,527.8) scale(1.0,1.0)" font-size="73.5" text-anchor="end" font-family="'Liberation Sans', sans-serif" fill="#000" stroke="#000" stroke-width="1.4" stroke-linejoin="round">0.008</text>
<text transform="translate(222.5,674.3) scale(1.0,1.0)" font-size="73.5" text-anchor="end" font-family="'Liberation Sans', sans-serif" fill="#000" stroke="#000" stroke-width="1.4" stroke-linejoin="round">0.006</text>
<text transform="translate(222.5,818.0) scale(1.0,1.0)" font-size="73.5" text-anchor="end" font-family="'Liberation Sans', sans-serif" fill="#000" stroke="#000" stroke-width="1.4" stroke-linejoin="round">0.004</text>
<text transform="translate(222.5,961.5) scale(1.0,1.0)" font-size="73.5" text-anchor="end" font-family="'Liberation Sans', sans-serif" fill="#000" stroke="#000" stroke-width="1.4" stroke-linejoin="round">0.002</text>
<text transform="translate(222.5,1107.8) scale(1.0,1.0)" font-size="73.5" text-anchor="end" font-family="'Liberation Sans', sans-serif" fill="#000" stroke="#000" stroke-width="1.4" stroke-linejoin="round">0</text>
<text transform="translate(243.4,1162.0) scale(1.0,1.0)" font-size="73.5" text-anchor="middle" font-family="'Liberation Sans', sans-serif" fill="#000" stroke="#000" stroke-width="1.4" stroke-linejoin="round">0</text>
<text transform="translate(553.3,1162.0) scale(1.0,1.0)" font-size="73.5" text-anchor="middle" font-family="'Liberation Sans', sans-serif" fill="#000" stroke="#000" stroke-width="1.4" stroke-linejoin="round">100</text>
<text transform="translate(865.5,1162.0) scale(1.0,1.0)" font-size="73.5" text-anchor="middle" font-family="'Liberation Sans', sans-serif" fill="#000" stroke="#000" stroke-width="1.4" stroke-linejoin="round">200</text>
<text transform="translate(1174.2,1162.0) scale(1.0,1.0)" font-size="73.5" text-anchor="middle" font-family="'Liberation Sans', sans-serif" fill="#000" stroke="#000" stroke-width="1.4" stroke-linejoin="round">300</text>
<text transform="translate(708.0,1249.3) scale(1.0,0.97)" font-size="77" text-anchor="middle" font-family="'Liberation Serif', serif" fill="#000" stroke="#000" stroke-width="0.9" stroke-linejoin="round" font-style="italic">x</text>
<text transform="translate(625.9,1375.8) scale(0.94,1)" font-size="86.5" text-anchor="middle" font-family="'Liberation Serif', serif" fill="#000">(<tspan font-weight="bold">a</tspan>)</text>
</g>
</g>
<g id="panel-b">
<g id="curves-b">
<path d="M1404.8,157.7 L1911.8,157.7 L1913.7,169.5 L1915.9,182.9 L1918,196.3 L1920.2,209.4 L1922.3,222.4 L1924.5,235.3 L1926.6,248.1 L1928.8,260.7 L1930.9,273.1 L1933.1,285.5 L1935.2,297.7 L1937.4,309.8 L1939.5,321.7 L1941.7,333.5 L1943.8,345.2 L1946,356.7 L1948.1,368.2 L1950.3,379.4 L1952.4,390.6 L1954.6,401.7 L1956.7,412.6 L1958.9,423.4 L1961,434 L1963.2,444.6 L1965.3,455 L1967.5,465.3 L1969.6,475.5 L1971.8,485.6 L1973.9,495.6 L1976.1,505.4 L1978.2,515.2 L1980.4,524.8 L1982.5,534.3 L1984.7,543.7 L1986.8,553 L1989,562.1 L1991.1,571.2 L1993.3,580.2 L1995.4,589 L1997.6,597.8 L1999.7,606.4 L2001.9,614.9 L2004,623.4 L2006.2,631.7 L2008.3,639.9 L2010.5,648 L2012.7,656.1 L2014.8,664 L2017,671.8 L2019.1,679.5 L2021.3,687.2 L2023.4,694.7 L2025.6,702.1 L2027.7,709.5 L2029.9,716.7 L2032,723.9 L2034.2,730.9 L2036.3,737.9 L2038.5,744.8 L2040.6,751.6 L2042.8,758.3 L2044.9,764.9 L2047.1,771.4 L2049.2,777.8 L2051.4,784.2 L2053.5,790.4 L2055.7,796.6 L2057.8,802.7 L2060,808.7 L2062.1,814.6 L2064.3,820.5 L2066.4,826.3 L2068.6,831.9 L2070.7,837.5 L2072.9,843.1 L2075,848.5 L2077.2,853.9 L2079.3,859.2 L2081.5,864.4 L2083.6,869.5 L2085.8,874.6 L2087.9,879.6 L2090.1,884.5 L2092.2,889.3 L2094.4,894.1 L2096.5,898.8 L2098.7,903.4 L2100.8,908 L2103,912.5 L2105.1,916.9 L2107.3,921.2 L2109.4,925.5 L2111.6,929.7 L2113.7,933.8 L2115.9,937.9 L2118,941.9 L2120.2,945.9 L2122.3,949.8 L2124.5,953.6 L2126.6,957.3 L2128.8,961 L2131,964.6 L2133.1,968.2 L2135.3,971.7 L2137.4,975.2 L2139.6,978.5 L2141.7,981.9 L2143.9,985.1 L2146,988.3 L2148.2,991.5 L2150.3,994.6 L2152.5,997.6 L2154.6,1000.6 L2156.8,1003.5 L2158.9,1006.4 L2161.1,1009.2 L2163.2,1011.9 L2165.4,1014.6 L2167.5,1017.3 L2169.7,1019.9 L2171.8,1022.4 L2174,1024.9 L2176.1,1027.4 L2178.3,1029.8 L2180.4,1032.1 L2182.6,1034.4 L2184.7,1036.6 L2186.9,1038.8 L2189,1041 L2191.2,1043 L2193.3,1045.1 L2195.5,1047.1 L2197.6,1049 L2199.8,1050.9 L2201.9,1052.8 L2204.1,1054.6 L2206.2,1056.4 L2208.4,1058.1 L2210.5,1059.8 L2212.7,1061.4 L2214.8,1063 L2217,1064.5 L2219.1,1066 L2221.3,1067.5 L2223.4,1068.9 L2225.6,1070.3 L2227.7,1071.6 L2229.9,1072.9 L2232,1074.1 L2234.2,1075.4 L2236.3,1076.5 L2238.5,1077.7 L2240.6,1078.7 L2242.8,1079.8 L2244.9,1080.8 L2247.1,1081.8 L2249.2,1082.7 L2251.4,1083.6 L2253.6,1084.5 L2255.7,1085.3 L2257.9,1086.1 L2260,1086.8 L2262.2,1087.5 L2264.3,1088.2 L2266.5,1088.9 L2268.6,1089.5 L2270.8,1090 L2272.9,1090.6 L2275.1,1091.1 L2277.2,1091.6 L2279.4,1092 L2281.5,1092.4 L2283.7,1092.8 L2285.8,1093.1 L2288,1093.4 L2290.1,1093.7 L2292.3,1094 L2294.4,1094.2 L2296.6,1094.4 L2298.7,1094.6 L2300.9,1094.7 L2303,1094.8 L2305.2,1094.9 L2307.3,1095 L2309.5,1095" fill="none" stroke="#000" stroke-width="10.8" stroke-linejoin="miter" stroke-miterlimit="10" stroke-dasharray="10.5 22.95"/>
<path d="M1404.8,157.7 L1608.3,157.7 L1608.8,163.9 L1610.1,180.3 L1611.3,196.5 L1612.6,212.4 L1613.9,228 L1615.2,243.4 L1616.5,258.6 L1617.8,273.5 L1619.1,288.1 L1620.4,302.5 L1621.7,316.7 L1623,330.6 L1624.3,344.3 L1625.5,357.8 L1626.8,371.1 L1628.1,384.1 L1629.4,397 L1630.7,409.6 L1632,422 L1633.3,434.2 L1634.6,446.2 L1635.9,458.1 L1637.2,469.7 L1638.5,481.1 L1639.7,492.3 L1641,503.4 L1642.3,514.3 L1643.6,524.9 L1644.9,535.5 L1646.2,545.8 L1647.5,555.9 L1648.8,565.9 L1650.1,575.8 L1651.4,585.4 L1652.7,594.9 L1653.9,604.3 L1655.2,613.4 L1656.5,622.5 L1657.8,631.4 L1659.1,640.1 L1660.4,648.7 L1661.7,657.1 L1663,665.4 L1664.3,673.5 L1665.6,681.5 L1666.9,689.4 L1668.1,697.2 L1669.4,704.8 L1670.7,712.3 L1672,719.6 L1673.3,726.8 L1674.6,733.9 L1675.9,740.9 L1677.2,747.8 L1678.5,754.5 L1679.8,761.2 L1681.1,767.7 L1682.3,774.1 L1683.6,780.4 L1684.9,786.5 L1686.2,792.6 L1687.5,798.6 L1688.8,804.4 L1690.1,810.2 L1691.4,815.9 L1692.7,821.4 L1694,826.9 L1695.3,832.3 L1696.5,837.5 L1697.8,842.7 L1699.1,847.8 L1700.4,852.8 L1701.7,857.7 L1703,862.5 L1704.3,867.3 L1705.6,871.9 L1706.9,876.5 L1708.2,881 L1709.5,885.4 L1710.7,889.7 L1712,894 L1713.3,898.2 L1714.6,902.3 L1715.9,906.3 L1717.2,910.2 L1718.5,914.1 L1719.8,917.9 L1721.1,921.7 L1722.4,925.3 L1723.7,928.9 L1724.9,932.5 L1726.2,936 L1727.5,939.4 L1728.8,942.7 L1730.1,946 L1731.4,949.2 L1732.7,952.4 L1734,955.5 L1735.3,958.5 L1736.6,961.5 L1737.9,964.5 L1739.1,967.4 L1740.4,970.2 L1741.7,972.9 L1743,975.7 L1744.3,978.3 L1745.6,981 L1746.9,983.5 L1748.2,986 L1749.5,988.5 L1750.8,990.9 L1752,993.3 L1753.3,995.6 L1754.6,997.9 L1755.9,1000.2 L1757.2,1002.4 L1758.5,1004.5 L1759.8,1006.6 L1761.1,1008.7 L1762.4,1010.7 L1763.7,1012.7 L1765,1014.7 L1766.2,1016.6 L1767.5,1018.4 L1768.8,1020.3 L1770.1,1022.1 L1771.4,1023.8 L1772.7,1025.6 L1774,1027.3 L1775.3,1028.9 L1776.6,1030.5 L1777.9,1032.1 L1779.2,1033.7 L1780.4,1035.2 L1781.7,1036.7 L1783,1038.2 L1784.3,1039.6 L1785.6,1041 L1786.9,1042.4 L1788.2,1043.7 L1789.5,1045 L1790.8,1046.3 L1792.1,1047.6 L1793.4,1048.8 L1794.6,1050 L1795.9,1051.2 L1797.2,1052.4 L1798.5,1053.5 L1799.8,1054.6 L1801.1,1055.7 L1802.4,1056.8 L1803.7,1057.8 L1805,1058.8 L1806.3,1059.8 L1807.6,1060.8 L1808.8,1061.7 L1810.1,1062.6 L1811.4,1063.6 L1812.7,1064.4 L1814,1065.3 L1815.3,1066.1 L1816.6,1067 L1817.9,1067.8 L1819.2,1068.6 L1820.5,1069.3 L1821.8,1070.1 L1823,1070.8 L1824.3,1071.5 L1825.6,1072.2 L1826.9,1072.9 L1828.2,1073.6 L1829.5,1074.2 L1830.8,1074.9 L1832.1,1075.5 L1833.4,1076.1 L1834.7,1076.7 L1836,1077.3 L1837.2,1077.8 L1838.5,1078.4 L1839.8,1078.9 L1841.1,1079.4 L1842.4,1079.9 L1843.7,1080.4 L1845,1080.9 L1846.3,1081.4 L1847.6,1081.8 L1848.9,1082.3 L1850.2,1082.7 L1851.4,1083.1 L1852.7,1083.5 L1854,1083.9 L1855.3,1084.3 L1856.6,1084.7 L1857.9,1085.1 L1859.2,1085.4 L1860.5,1085.8 L1861.8,1086.1 L1863.1,1086.4 L1864.4,1086.8 L1865.6,1087.1 L1866.9,1087.4 L1868.2,1087.7 L1869.5,1088 L1870.8,1088.2 L1872.1,1088.5 L1873.4,1088.8 L1874.7,1089 L1876,1089.2 L1877.3,1089.5 L1878.6,1089.7 L1879.8,1089.9 L1881.1,1090.1 L1882.4,1090.4 L1883.7,1090.6 L1885,1090.8 L1886.3,1090.9 L1887.6,1091.1 L1888.9,1091.3 L1890.2,1091.5 L1891.5,1091.6 L1892.8,1091.8 L1894,1091.9 L1895.3,1092.1 L1896.6,1092.2 L1897.9,1092.4 L1899.2,1092.5 L1900.5,1092.6 L1901.8,1092.8 L1903.1,1092.9 L1904.4,1093 L1905.7,1093.1 L1907,1093.2 L1908.2,1093.3 L1909.5,1093.4 L1910.8,1093.5 L1912.1,1093.6 L1913.4,1093.7 L1914.7,1093.7 L1916,1093.8 L1917.3,1093.9 L1918.6,1094 L1919.9,1094 L1921.2,1094.1 L1922.4,1094.2 L1923.7,1094.2 L1925,1094.3 L1926.3,1094.3 L1927.6,1094.4 L1928.9,1094.4 L1930.2,1094.5 L1931.5,1094.5 L1932.8,1094.6 L1934.1,1094.6 L1935.4,1094.6 L1936.6,1094.7 L1937.9,1094.7 L1939.2,1094.7 L1940.5,1094.8 L1941.8,1094.8 L1943.1,1094.8 L1944.4,1094.8 L1945.7,1094.9 L1947,1094.9 L1948.3,1094.9" fill="none" stroke="#000" stroke-width="7.4" stroke-linejoin="miter" stroke-miterlimit="10" stroke-dasharray="48.6 15.1"/>
<path d="M1404.8,157.7 L1738.6,157.7 L1739.1,163.7 L1740.4,177.5 L1741.7,191 L1743,204.5 L1744.3,217.8 L1745.6,231 L1746.9,244.1 L1748.2,257 L1749.5,269.8 L1750.8,282.5 L1752,295.1 L1753.3,307.6 L1754.6,319.9 L1755.9,332.1 L1757.2,344.2 L1758.5,356.2 L1759.8,368 L1761.1,379.8 L1762.4,391.4 L1763.7,402.9 L1765,414.3 L1766.2,425.6 L1767.5,436.7 L1768.8,447.8 L1770.1,458.7 L1771.4,469.5 L1772.7,480.2 L1774,490.8 L1775.3,501.2 L1776.6,511.6 L1777.9,521.9 L1779.2,532 L1780.4,542 L1781.7,552 L1783,561.8 L1784.3,571.5 L1785.6,581.1 L1786.9,590.6 L1788.2,600 L1789.5,609.2 L1790.8,618.4 L1792.1,627.5 L1793.4,636.4 L1794.6,645.3 L1795.9,654.1 L1797.2,662.7 L1798.5,671.3 L1799.8,679.7 L1801.1,688.1 L1802.4,696.3 L1803.7,704.5 L1805,712.5 L1806.3,720.5 L1807.6,728.3 L1808.8,736.1 L1810.1,743.7 L1811.4,751.3 L1812.7,758.7 L1814,766.1 L1815.3,773.3 L1816.6,780.5 L1817.9,787.6 L1819.2,794.6 L1820.5,801.4 L1821.8,808.2 L1823,814.9 L1824.3,821.5 L1825.6,828 L1826.9,834.5 L1828.2,840.8 L1829.5,847 L1830.8,853.2 L1832.1,859.2 L1833.4,865.2 L1834.7,871.1 L1836,876.9 L1837.2,882.6 L1838.5,888.2 L1839.8,893.7 L1841.1,899.1 L1842.4,904.5 L1843.7,909.7 L1845,914.9 L1846.3,920 L1847.6,925 L1848.9,929.9 L1850.2,934.8 L1851.4,939.5 L1852.7,944.2 L1854,948.8 L1855.3,953.3 L1856.6,957.7 L1857.9,962 L1859.2,966.3 L1860.5,970.5 L1861.8,974.6 L1863.1,978.6 L1864.4,982.6 L1865.6,986.4 L1866.9,990.2 L1868.2,993.9 L1869.5,997.5 L1870.8,1001.1 L1872.1,1004.6 L1873.4,1008 L1874.7,1011.3 L1876,1014.5 L1877.3,1017.7 L1878.6,1020.8 L1879.8,1023.8 L1881.1,1026.8 L1882.4,1029.7 L1883.7,1032.5 L1885,1035.2 L1886.3,1037.9 L1887.6,1040.5 L1888.9,1043 L1890.2,1045.5 L1891.5,1047.9 L1892.8,1050.2 L1894,1052.4 L1895.3,1054.6 L1896.6,1056.7 L1897.9,1058.8 L1899.2,1060.8 L1900.5,1062.7 L1901.8,1064.6 L1903.1,1066.4 L1904.4,1068.1 L1905.7,1069.8 L1907,1071.4 L1908.2,1072.9 L1909.5,1074.4 L1910.8,1075.8 L1912.1,1077.2 L1913.4,1078.5 L1914.7,1079.7 L1916,1080.9 L1917.3,1082.1 L1918.6,1083.2 L1919.9,1084.2 L1921.2,1085.2 L1922.4,1086.1 L1923.7,1086.9 L1925,1087.8 L1926.3,1088.5 L1927.6,1089.2 L1928.9,1089.9 L1930.2,1090.5 L1931.5,1091.1 L1932.8,1091.6 L1934.1,1092.1 L1935.4,1092.6 L1936.6,1093 L1937.9,1093.3 L1939.2,1093.7 L1940.5,1093.9 L1941.8,1094.2 L1943.1,1094.4 L1944.4,1094.6 L1945.7,1094.7 L1947,1094.9 L1948.3,1094.9" fill="none" stroke="#000" stroke-width="10.8" stroke-linejoin="miter" stroke-miterlimit="10"/>
<path d="M1404.8,158.1 L1662.3,158.1 L1662.7,162.2 L1665.1,188.6 L1667.5,214.4 L1669.9,239.5 L1672.3,263.9 L1674.8,287.6 L1677.2,310.7 L1679.6,333.2 L1682,355 L1684.4,376.3 L1686.9,396.9 L1689.3,417 L1691.7,436.5 L1694.1,455.5 L1696.5,474 L1699,492 L1701.4,509.4 L1703.8,526.4 L1706.2,542.9 L1708.6,558.9 L1711.1,574.5 L1713.5,589.7 L1715.9,604.4 L1718.3,618.7 L1720.7,632.6 L1723.2,646.1 L1725.6,659.2 L1728,671.9 L1730.4,684.3 L1732.8,696.4 L1735.3,708 L1737.7,719.4 L1740.1,730.4 L1742.5,741.1 L1744.9,751.5 L1747.4,761.6 L1749.8,771.4 L1752.2,780.9 L1754.6,790.2 L1757.1,799.2 L1759.5,807.9 L1761.9,816.4 L1764.3,824.6 L1766.7,832.6 L1769.2,840.3 L1771.6,847.8 L1774,855.1 L1776.4,862.2 L1778.8,869.1 L1781.3,875.8 L1783.7,882.3 L1786.1,888.6 L1788.5,894.7 L1790.9,900.6 L1793.4,906.4 L1795.8,911.9 L1798.2,917.4 L1800.6,922.6 L1803,927.7 L1805.5,932.7 L1807.9,937.5 L1810.3,942.2 L1812.7,946.7 L1815.1,951.1 L1817.6,955.3 L1820,959.5 L1822.4,963.5 L1824.8,967.4 L1827.2,971.2 L1829.7,974.8 L1832.1,978.4 L1834.5,981.8 L1836.9,985.2 L1839.3,988.4 L1841.8,991.6 L1844.2,994.7 L1846.6,997.6 L1849,1000.5 L1851.4,1003.3 L1853.9,1006 L1856.3,1008.6 L1858.7,1011.2 L1861.1,1013.7 L1863.5,1016.1 L1866,1018.4 L1868.4,1020.7 L1870.8,1022.8 L1873.2,1025 L1875.6,1027 L1878.1,1029 L1880.5,1031 L1882.9,1032.9 L1885.3,1034.7 L1887.8,1036.5 L1890.2,1038.2 L1892.6,1039.9 L1895,1041.5 L1897.4,1043 L1899.9,1044.6 L1902.3,1046 L1904.7,1047.5 L1907.1,1048.9 L1909.5,1050.2 L1912,1051.5 L1914.4,1052.8 L1916.8,1054 L1919.2,1055.2 L1921.6,1056.4 L1924.1,1057.5 L1926.5,1058.6 L1928.9,1059.7 L1931.3,1060.7 L1933.7,1061.7 L1936.2,1062.7 L1938.6,1063.6 L1941,1064.5 L1943.4,1065.4 L1945.8,1066.3 L1948.3,1067.1 L1950.7,1067.9 L1953.1,1068.7 L1955.5,1069.5 L1957.9,1070.2 L1960.4,1070.9 L1962.8,1071.6 L1965.2,1072.3 L1967.6,1072.9 L1970,1073.6 L1972.5,1074.2 L1974.9,1074.8 L1977.3,1075.4 L1979.7,1075.9 L1982.1,1076.5 L1984.6,1077 L1987,1077.5 L1989.4,1078 L1991.8,1078.5 L1994.2,1079 L1996.7,1079.4 L1999.1,1079.9 L2001.5,1080.3 L2003.9,1080.7 L2006.3,1081.1 L2008.8,1081.5 L2011.2,1081.9 L2013.6,1082.3 L2016,1082.6 L2018.5,1083 L2020.9,1083.3 L2023.3,1083.7 L2025.7,1084 L2028.1,1084.3 L2030.6,1084.6 L2033,1084.9 L2035.4,1085.2 L2037.8,1085.5 L2040.2,1085.7 L2042.7,1086 L2045.1,1086.2 L2047.5,1086.5 L2049.9,1086.7 L2052.3,1087 L2054.8,1087.2 L2057.2,1087.4 L2059.6,1087.6 L2062,1087.8 L2064.4,1088 L2066.9,1088.2 L2069.3,1088.4 L2071.7,1088.6 L2074.1,1088.8 L2076.5,1088.9 L2079,1089.1 L2081.4,1089.3 L2083.8,1089.4 L2086.2,1089.6 L2088.6,1089.7 L2091.1,1089.9 L2093.5,1090 L2095.9,1090.2 L2098.3,1090.3 L2100.7,1090.4 L2103.2,1090.6 L2105.6,1090.7 L2108,1090.8 L2110.4,1090.9 L2112.8,1091 L2115.3,1091.1 L2117.7,1091.2 L2120.1,1091.3 L2122.5,1091.4 L2124.9,1091.5 L2127.4,1091.6 L2129.8,1091.7 L2132.2,1091.8 L2134.6,1091.9 L2137,1092 L2139.5,1092.1 L2141.9,1092.1 L2144.3,1092.2 L2146.7,1092.3 L2149.1,1092.4 L2151.6,1092.4 L2154,1092.5 L2156.4,1092.6 L2158.8,1092.7 L2161.3,1092.7 L2163.7,1092.8 L2166.1,1092.8 L2168.5,1092.9 L2170.9,1093 L2173.4,1093 L2175.8,1093.1 L2178.2,1093.1 L2180.6,1093.2 L2183,1093.2 L2185.5,1093.3 L2187.9,1093.3 L2190.3,1093.4 L2192.7,1093.4 L2195.1,1093.4 L2197.6,1093.5 L2200,1093.5 L2202.4,1093.6 L2204.8,1093.6 L2207.2,1093.6 L2209.7,1093.7 L2212.1,1093.7 L2214.5,1093.8 L2216.9,1093.8 L2219.3,1093.8 L2221.8,1093.9 L2224.2,1093.9 L2226.6,1093.9 L2229,1093.9 L2231.4,1094 L2233.9,1094 L2236.3,1094 L2238.7,1094.1 L2241.1,1094.1 L2243.5,1094.1 L2246,1094.1 L2248.4,1094.2 L2250.8,1094.2 L2253.2,1094.2 L2255.6,1094.2 L2258.1,1094.2 L2260.5,1094.3 L2262.9,1094.3 L2265.3,1094.3 L2267.7,1094.3 L2270.2,1094.3 L2272.6,1094.4 L2275,1094.4 L2277.4,1094.4 L2279.8,1094.4 L2282.3,1094.4 L2284.7,1094.4 L2287.1,1094.5 L2289.5,1094.5 L2292,1094.5 L2294.4,1094.5 L2296.8,1094.5 L2299.2,1094.5 L2301.6,1094.6 L2304.1,1094.6 L2306.5,1094.6 L2308.9,1094.6 L2311.3,1094.6 L2313.7,1094.6 L2316.2,1094.6 L2318.6,1094.6 L2321,1094.6 L2323.4,1094.7 L2325.8,1094.7 L2328.3,1094.7 L2330.7,1094.7 L2333.1,1094.7 L2335.5,1094.7 L2337.9,1094.7 L2340.4,1094.7 L2342.8,1094.7 L2345.2,1094.7 L2347.6,1094.8 L2350,1094.8 L2352.5,1094.8 L2354.9,1094.8 L2357.3,1094.8 L2359.7,1094.8 L2362.1,1094.8 L2364.6,1094.8 L2367,1094.8 L2369.4,1094.8 L2371.8,1094.8 L2374.2,1094.8 L2376.7,1094.8 L2379.1,1094.8 L2381.5,1094.8 L2383.9,1094.9 L2386.3,1094.9 L2388.8,1094.9 L2391.2,1094.9 L2393.6,1094.9 L2396,1094.9 L2398.4,1094.9 L2400.9,1094.9 L2403.3,1094.9 L2405.7,1094.9 L2408.1,1094.9 L2410.5,1094.9 L2413,1094.9 L2415.4,1094.9 L2417.8,1094.9 L2420.2,1094.9 L2422.7,1094.9" fill="none" stroke="#0000ff" stroke-width="6.1" stroke-linejoin="miter" stroke-miterlimit="10"/>
</g>
<g id="axes-b">
<line x1="1406.1" y1="155.7" x2="1406.1" y2="1097.2" stroke="#000" stroke-width="4.0"/>
<line x1="1404.1" y1="1095.1" x2="2424.8" y2="1095.1" stroke="#000" stroke-width="4.3"/>
<line x1="1406.1" y1="1095.1" x2="1406.1" y2="1109.8" stroke="#000" stroke-width="4.3"/>
<line x1="1575.2" y1="1095.1" x2="1575.2" y2="1103.6" stroke="#000" stroke-width="4.3"/>
<line x1="1743.9" y1="1095.1" x2="1743.9" y2="1109.8" stroke="#000" stroke-width="4.3"/>
<line x1="1912.8" y1="1095.1" x2="1912.8" y2="1103.6" stroke="#000" stroke-width="4.3"/>
<line x1="2084.9" y1="1095.1" x2="2084.9" y2="1109.8" stroke="#000" stroke-width="4.3"/>
<line x1="2254.0" y1="1095.1" x2="2254.0" y2="1103.6" stroke="#000" stroke-width="4.3"/>
<line x1="2422.8" y1="1095.1" x2="2422.8" y2="1109.8" stroke="#000" stroke-width="4.3"/>
<line x1="1391.0" y1="1095.1" x2="1406.1" y2="1095.1" stroke="#000" stroke-width="4.3"/>
<line x1="1397.1" y1="1001.0" x2="1406.1" y2="1001.0" stroke="#000" stroke-width="4.3"/>
<line x1="1391.0" y1="906.8" x2="1406.1" y2="906.8" stroke="#000" stroke-width="4.3"/>
<line x1="1397.1" y1="814.5" x2="1406.1" y2="814.5" stroke="#000" stroke-width="4.3"/>
<line x1="1391.0" y1="718.6" x2="1406.1" y2="718.6" stroke="#000" stroke-width="4.3"/>
<line x1="1397.1" y1="626.0" x2="1406.1" y2="626.0" stroke="#000" stroke-width="4.3"/>
<line x1="1391.0" y1="534.2" x2="1406.1" y2="534.2" stroke="#000" stroke-width="4.3"/>
<line x1="1397.1" y1="438.1" x2="1406.1" y2="438.1" stroke="#000" stroke-width="4.3"/>
<line x1="1391.0" y1="346.1" x2="1406.1" y2="346.1" stroke="#000" stroke-width="4.3"/>
<line x1="1397.1" y1="249.8" x2="1406.1" y2="249.8" stroke="#000" stroke-width="4.3"/>
<line x1="1391.0" y1="158.0" x2="1406.1" y2="158.0" stroke="#000" stroke-width="4.3"/>
</g>
<g id="labels-b">
<text transform="translate(1868.5,104.1) scale(0.978,1.0)" font-size="85" text-anchor="middle" font-family="'Liberation Sans', sans-serif" fill="#000" stroke="#000" stroke-width="1.0" stroke-linejoin="round">Spotting distribution</text>
<text transform="translate(1386.3,179.3) scale(1.0,1.0)" font-size="73.5" text-anchor="end" font-family="'Liberation Sans', sans-serif" fill="#000" stroke="#000" stroke-width="1.4" stroke-linejoin="round">1</text>
<text transform="translate(1386.3,366.0) scale(1.0,1.0)" font-size="73.5" text-anchor="end" font-family="'Liberation Sans', sans-serif" fill="#000" stroke="#000" stroke-width="1.4" stroke-linejoin="round">0.8</text>
<text transform="translate(1386.3,554.2) scale(1.0,1.0)" font-size="73.5" text-anchor="end" font-family="'Liberation Sans', sans-serif" fill="#000" stroke="#000" stroke-width="1.4" stroke-linejoin="round">0.6</text>
<text transform="translate(1386.3,742.1) scale(1.0,1.0)" font-size="73.5" text-anchor="end" font-family="'Liberation Sans', sans-serif" fill="#000" stroke="#000" stroke-width="1.4" stroke-linejoin="round">0.4</text>
<text transform="translate(1386.3,930.2) scale(1.0,1.0)" font-size="73.5" text-anchor="end" font-family="'Liberation Sans', sans-serif" fill="#000" stroke="#000" stroke-width="1.4" stroke-linejoin="round">0.2</text>
<text transform="translate(1386.3,1118.5) scale(1.0,1.0)" font-size="73.5" text-anchor="end" font-family="'Liberation Sans', sans-serif" fill="#000" stroke="#000" stroke-width="1.4" stroke-linejoin="round">0</text>
<text transform="translate(1406.1,1172.8) scale(1.0,1.0)" font-size="73.5" text-anchor="middle" font-family="'Liberation Sans', sans-serif" fill="#000" stroke="#000" stroke-width="1.4" stroke-linejoin="round">0</text>
<text transform="translate(1743.8,1172.8) scale(1.0,1.0)" font-size="73.5" text-anchor="middle" font-family="'Liberation Sans', sans-serif" fill="#000" stroke="#000" stroke-width="1.4" stroke-linejoin="round">100</text>
<text transform="translate(2081.6,1172.8) scale(1.0,1.0)" font-size="73.5" text-anchor="middle" font-family="'Liberation Sans', sans-serif" fill="#000" stroke="#000" stroke-width="1.4" stroke-linejoin="round">200</text>
<text transform="translate(2419.4,1172.8) scale(1.0,1.0)" font-size="73.5" text-anchor="middle" font-family="'Liberation Sans', sans-serif" fill="#000" stroke="#000" stroke-width="1.4" stroke-linejoin="round">300</text>
<text transform="translate(1912.2,1258.9) scale(1.0,0.97)" font-size="77" text-anchor="middle" font-family="'Liberation Serif', serif" fill="#000" stroke="#000" stroke-width="0.9" stroke-linejoin="round" font-style="italic">x</text>
<text transform="translate(1881.9,1375.6) scale(0.977,1)" font-size="86.5" text-anchor="middle" font-family="'Liberation Serif', serif" fill="#000">(<tspan font-weight="bold">b</tspan>)</text>
</g>
</g>
</svg>
</body>
</html>
